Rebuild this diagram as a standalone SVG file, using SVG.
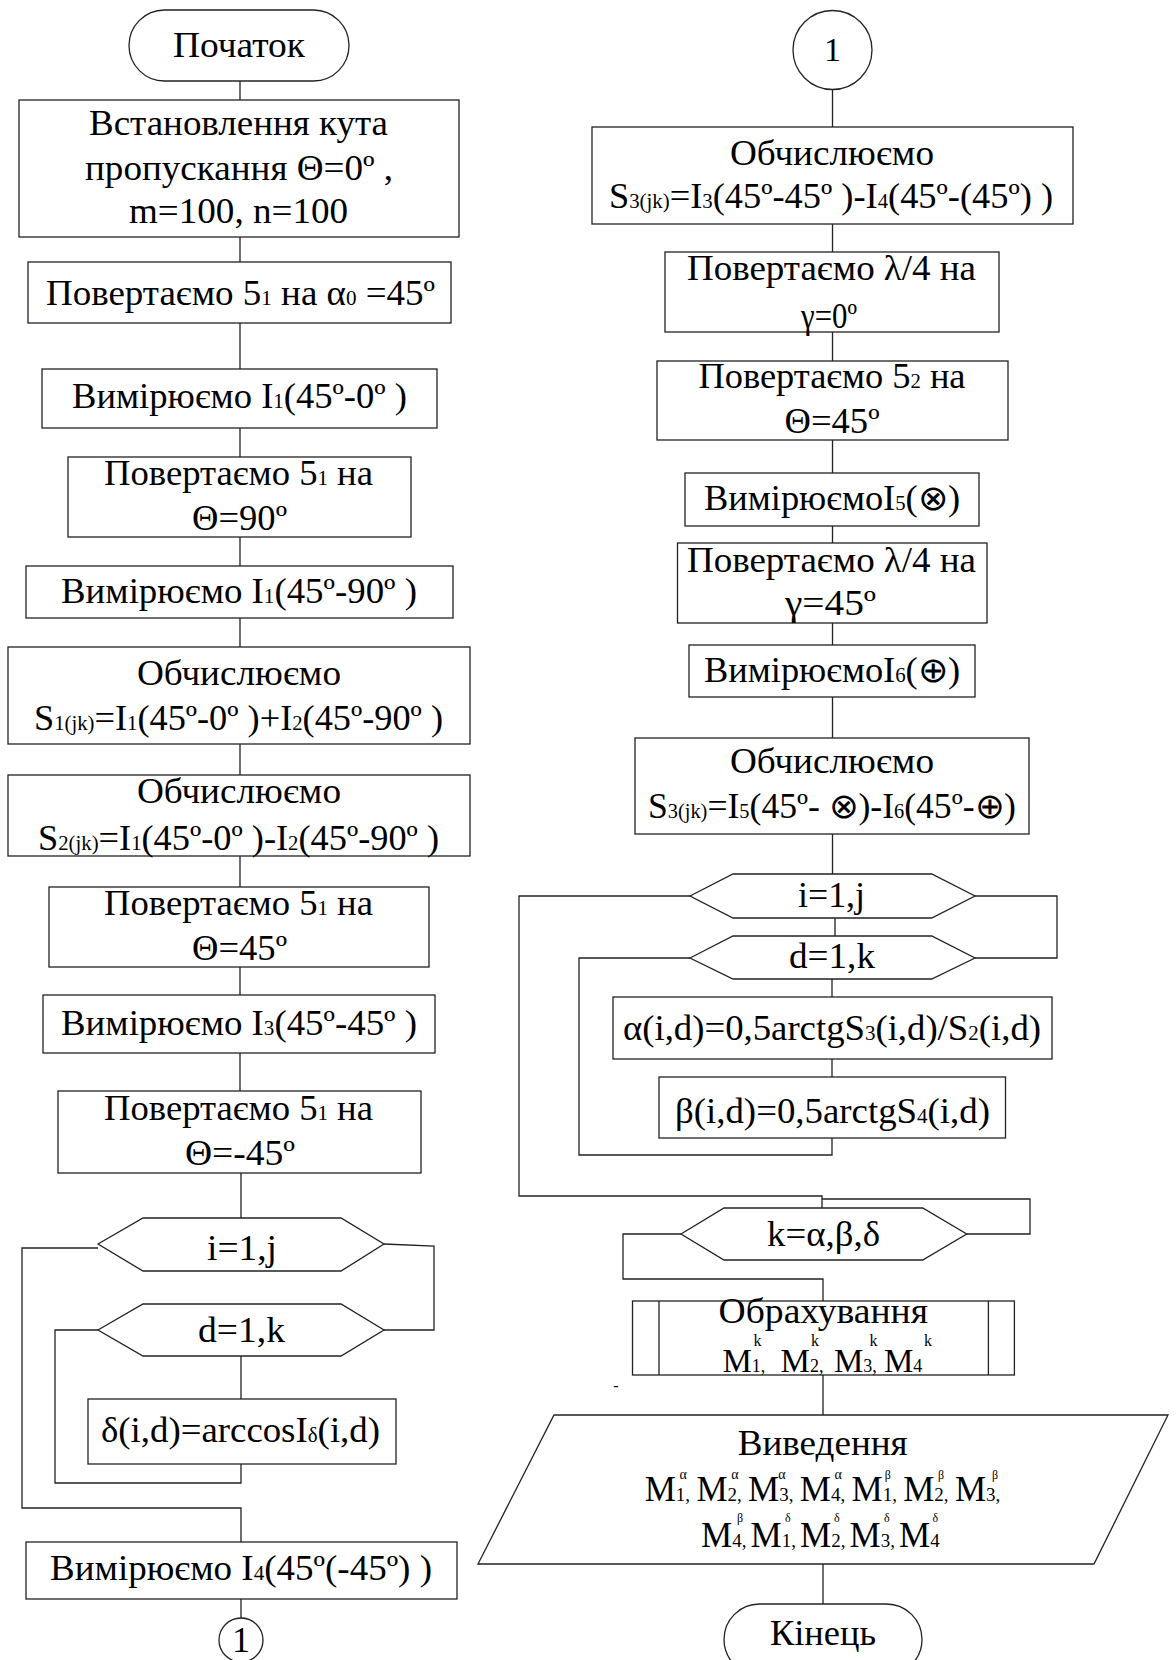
<svg xmlns="http://www.w3.org/2000/svg" width="1176" height="1660" viewBox="0 0 1176 1660">
<style>
.b{fill:#fff;stroke:#222;stroke-width:1.3}
.c{fill:none;stroke:#222;stroke-width:1.3}
text{font-family:"Liberation Serif","Times New Roman",serif;font-size:35px;text-anchor:middle;fill:#000}
.s{font-size:20px}
.ml{font-size:35px;text-anchor:start}
.ms{font-size:19px}
.sup{font-size:14px}
.sb{font-size:12px}
.k{font-size:16px}
</style>
<rect width="1176" height="1660" fill="#fff"/>
<g id="connectors">
<path class="c" d="M240 81V100M240 237V262M240 323V369M240 428V457M240 537V566M240 618V647M240 744V775M240 856V887M240 967V995M240 1053V1091M241 1173V1218"/>
<path class="c" d="M384 1244L434 1246V1330H384"/>
<path class="c" d="M98 1248H22V1508H241V1542"/>
<path class="c" d="M98 1330H55V1483H241V1464"/>
<path class="c" d="M241 1356V1399M241 1599V1618"/>
<path class="c" d="M832.5 89V127M832.5 224V252M832.5 332V361M832.5 440V473M832.5 526V543M832.5 623V645M832.5 697V738M832.5 834V874M835 918V936M832 979V997M832 1059V1077"/>
<path class="c" d="M975 896H1057V958H975"/>
<path class="c" d="M690 896H519V1196H822V1208"/>
<path class="c" d="M690 958H579V1155H832V1138"/>
<path class="c" d="M966.7 1234H1030V1199H822"/>
<path class="c" d="M681 1234H623V1279H823V1301"/>
<path class="c" d="M823 1375V1415M823 1564V1604"/>
</g>
<g id="start"><rect class="b" x="129" y="10" width="220" height="71" rx="35.5"/><text x="239" y="57" textLength="132" lengthAdjust="spacingAndGlyphs">Початок</text></g>
<g id="init"><rect class="b" x="19" y="100" width="440" height="137"/>
<text x="238.5" y="135" textLength="299" lengthAdjust="spacingAndGlyphs">Встановлення кута</text>
<text x="239" y="180" textLength="308" lengthAdjust="spacingAndGlyphs">пропускання Θ=0º ,</text>
<text x="238.5" y="223" textLength="219" lengthAdjust="spacingAndGlyphs">m=100, n=100</text></g>
<g id="rot1"><rect class="b" x="28" y="262" width="423" height="61"/><text x="240.5" y="305" textLength="389" lengthAdjust="spacingAndGlyphs">Повертаємо 5<tspan class="s">1</tspan> на α<tspan class="s">0</tspan> =45º</text></g>
<g id="meas1"><rect class="b" x="42" y="369" width="395" height="59"/><text x="239.5" y="408" textLength="335" lengthAdjust="spacingAndGlyphs">Вимірюємо I<tspan class="s">1</tspan>(45º-0º )</text></g>
<g id="rot2"><rect class="b" x="68" y="457" width="343" height="80"/><text x="238.5" y="485" textLength="269" lengthAdjust="spacingAndGlyphs">Повертаємо 5<tspan class="s">1</tspan> на</text><text x="239.5" y="530" textLength="95" lengthAdjust="spacingAndGlyphs">Θ=90º</text></g>
<g id="meas2"><rect class="b" x="26" y="566" width="427" height="52"/><text x="239" y="603" textLength="356" lengthAdjust="spacingAndGlyphs">Вимірюємо I<tspan class="s">1</tspan>(45º-90º )</text></g>
<g id="calc1"><rect class="b" x="8" y="647" width="462" height="97"/><text x="239" y="685" textLength="204" lengthAdjust="spacingAndGlyphs">Обчислюємо</text><text x="238.5" y="730" textLength="409" lengthAdjust="spacingAndGlyphs">S<tspan class="s">1(jk)</tspan>=I<tspan class="s">1</tspan>(45º-0º )+I<tspan class="s">2</tspan>(45º-90º )</text></g>
<g id="calc2"><rect class="b" x="8" y="775" width="462" height="81"/><text x="239" y="803" textLength="204" lengthAdjust="spacingAndGlyphs">Обчислюємо</text><text x="238.5" y="850" textLength="401" lengthAdjust="spacingAndGlyphs">S<tspan class="s">2(jk)</tspan>=I<tspan class="s">1</tspan>(45º-0º )-I<tspan class="s">2</tspan>(45º-90º )</text></g>
<g id="rot3"><rect class="b" x="49" y="887" width="380" height="80"/><text x="238.5" y="915" textLength="269" lengthAdjust="spacingAndGlyphs">Повертаємо 5<tspan class="s">1</tspan> на</text><text x="239.5" y="960" textLength="95" lengthAdjust="spacingAndGlyphs">Θ=45º</text></g>
<g id="meas3"><rect class="b" x="43" y="995" width="392" height="58"/><text x="239" y="1035" textLength="356" lengthAdjust="spacingAndGlyphs">Вимірюємо I<tspan class="s">3</tspan>(45º-45º )</text></g>
<g id="rot4"><rect class="b" x="58" y="1091" width="363" height="82"/><text x="238.5" y="1120" textLength="269" lengthAdjust="spacingAndGlyphs">Повертаємо 5<tspan class="s">1</tspan> на</text><text x="240" y="1165" textLength="110" lengthAdjust="spacingAndGlyphs">Θ=-45º</text></g>
<g id="loopI1"><polygon class="b" points="98,1244 143,1218 341,1218 384,1244 341,1271 143,1271"/><text x="242" y="1260" textLength="70" lengthAdjust="spacingAndGlyphs">i=1,j</text></g>
<g id="loopD1"><polygon class="b" points="98,1330 143,1304 341,1304 384,1330 341,1356 143,1356"/><text x="241.5" y="1342" textLength="87" lengthAdjust="spacingAndGlyphs">d=1,k</text></g>
<g id="delta"><rect class="b" x="88" y="1399" width="308" height="65"/><text x="240.5" y="1442" textLength="279" lengthAdjust="spacingAndGlyphs">δ(i,d)=arccosI<tspan class="s">δ</tspan>(i,d)</text></g>
<g id="meas4"><rect class="b" x="26" y="1542" width="431" height="57"/><text x="241" y="1580" textLength="382" lengthAdjust="spacingAndGlyphs">Вимірюємо I<tspan class="s">4</tspan>(45º(-45º) )</text></g>
<g id="conn1a"><circle class="b" cx="241" cy="1640" r="22"/><text x="241" y="1652" style="font-size:36px">1</text></g>
<g id="conn1b"><circle class="b" cx="832.5" cy="50" r="39.5"/><text x="832.5" y="61" style="font-size:34px">1</text></g>
<g id="calc3"><rect class="b" x="592" y="127" width="481" height="97"/><text x="832" y="165" textLength="204" lengthAdjust="spacingAndGlyphs">Обчислюємо</text><text x="831" y="208" textLength="444" lengthAdjust="spacingAndGlyphs">S<tspan class="s">3(jk)</tspan>=I<tspan class="s">3</tspan>(45º-45º )-I<tspan class="s">4</tspan>(45º-(45º) )</text></g>
<g id="rotL1"><rect class="b" x="665" y="252" width="334" height="80"/><text x="831.5" y="280" textLength="289" lengthAdjust="spacingAndGlyphs">Повертаємо λ/4 на</text><text x="829" y="328" textLength="56" lengthAdjust="spacingAndGlyphs">γ=0º</text></g>
<g id="rot5"><rect class="b" x="657" y="361" width="351" height="79"/><text x="832" y="388" textLength="267" lengthAdjust="spacingAndGlyphs">Повертаємо 5<tspan class="s">2</tspan> на</text><text x="832" y="433" textLength="95" lengthAdjust="spacingAndGlyphs">Θ=45º</text></g>
<g id="meas5"><rect class="b" x="685" y="473" width="294" height="53"/><text x="832" y="510" textLength="256" lengthAdjust="spacingAndGlyphs">ВимірюємоI<tspan class="s">5</tspan>(⊗)</text></g>
<g id="rotL2"><rect class="b" x="677.5" y="543" width="309.5" height="80"/><text x="831.5" y="572" textLength="289" lengthAdjust="spacingAndGlyphs">Повертаємо λ/4 на</text><text x="830.5" y="615" textLength="91" lengthAdjust="spacingAndGlyphs">γ=45º</text></g>
<g id="meas6"><rect class="b" x="689" y="645" width="286" height="52"/><text x="832" y="682" textLength="256" lengthAdjust="spacingAndGlyphs">ВимірюємоI<tspan class="s">6</tspan>(⊕)</text></g>
<g id="calc4"><rect class="b" x="635" y="738" width="394" height="96"/><text x="832" y="773" textLength="204" lengthAdjust="spacingAndGlyphs">Обчислюємо</text><text x="832" y="818" textLength="368" lengthAdjust="spacingAndGlyphs">S<tspan class="s">3(jk)</tspan>=I<tspan class="s">5</tspan>(45º- ⊗)-I<tspan class="s">6</tspan>(45º-⊕)</text></g>
<g id="loopI2"><polygon class="b" points="690,896 733,874 931.7,874 975,896 931.7,918 733,918"/><text x="831.5" y="907" textLength="67" lengthAdjust="spacingAndGlyphs">i=1,j</text></g>
<g id="loopD2"><polygon class="b" points="690,958 733,936 931.7,936 975,958 931.7,979 733,979"/><text x="832" y="968" textLength="86" lengthAdjust="spacingAndGlyphs">d=1,k</text></g>
<g id="alpha"><rect class="b" x="613" y="997" width="439" height="62"/><text x="832" y="1040" textLength="418" lengthAdjust="spacingAndGlyphs">α(i,d)=0,5arctgS<tspan class="s">3</tspan>(i,d)/S<tspan class="s">2</tspan>(i,d)</text></g>
<g id="beta"><rect class="b" x="659" y="1077" width="346.5" height="61"/><text x="832.5" y="1123" textLength="315" lengthAdjust="spacingAndGlyphs">β(i,d)=0,5arctgS<tspan class="s">4</tspan>(i,d)</text></g>
<g id="loopK"><polygon class="b" points="681,1234 724,1208 922.7,1208 966.7,1234 922.7,1260 724,1260"/><text x="823.5" y="1246" textLength="113" lengthAdjust="spacingAndGlyphs">k=α,β,δ</text></g>
<g id="calcM"><rect class="b" x="632.5" y="1301" width="381.9" height="74"/><path class="c" d="M659 1301V1375M988.4 1301V1375"/>
<text x="823.3" y="1323" textLength="209.5" lengthAdjust="spacingAndGlyphs">Обрахування</text>
<text class="ml" style="font-size:33px" y="1372"><tspan x="722.4">M</tspan><tspan class="ms" style="font-size:18px">1,</tspan><tspan class="k" x="753.6" y="1346">k</tspan><tspan x="780.6" y="1372">M</tspan><tspan class="ms" style="font-size:18px">2,</tspan><tspan class="k" x="811" y="1346">k</tspan><tspan x="834" y="1372">M</tspan><tspan class="ms" style="font-size:18px">3,</tspan><tspan class="k" x="869.6" y="1346">k</tspan><tspan x="884" y="1372">M</tspan><tspan class="ms" style="font-size:18px">4</tspan><tspan class="k" x="924" y="1346">k</tspan></text>
<text x="616" y="1391" style="font-size:16px">-</text></g>
<g id="output"><polygon class="b" points="554,1415 1168,1415 1094,1564 478,1564"/>
<text x="822.7" y="1455" textLength="170" lengthAdjust="spacingAndGlyphs">Виведення</text>
<text class="ml" y="1501"><tspan x="644.7">M</tspan><tspan class="ms">1,</tspan><tspan class="sup" x="679.5" y="1479">α</tspan><tspan x="696.4" y="1501">M</tspan><tspan class="ms">2,</tspan><tspan class="sup" x="731.2" y="1479">α</tspan><tspan x="748.1" y="1501">M</tspan><tspan class="ms">3,</tspan><tspan class="sup" x="778.2" y="1479">α</tspan><tspan x="799.8" y="1501">M</tspan><tspan class="ms">4,</tspan><tspan class="sup" x="834.5" y="1479">α</tspan><tspan x="851.5" y="1501">M</tspan><tspan class="ms">1,</tspan><tspan class="sb" x="884.8" y="1479">β</tspan><tspan x="903.2" y="1501">M</tspan><tspan class="ms">2,</tspan><tspan class="sb" x="938" y="1479">β</tspan><tspan x="954.9" y="1501">M</tspan><tspan class="ms">3,</tspan><tspan class="sb" x="992" y="1479">β</tspan></text>
<text class="ml" y="1547"><tspan x="701">M</tspan><tspan class="ms">4,</tspan><tspan class="sb" x="737" y="1522">β</tspan><tspan x="750.5" y="1547">M</tspan><tspan class="ms">1,</tspan><tspan class="sb" x="785" y="1522">δ</tspan><tspan x="800" y="1547">M</tspan><tspan class="ms">2,</tspan><tspan class="sb" x="834" y="1522">δ</tspan><tspan x="849.5" y="1547">M</tspan><tspan class="ms">3,</tspan><tspan class="sb" x="884" y="1522">δ</tspan><tspan x="899" y="1547">M</tspan><tspan class="ms">4</tspan><tspan class="sb" x="932.5" y="1522">δ</tspan></text></g>
<g id="end"><rect class="b" x="724" y="1604" width="198" height="71" rx="35.5"/><text x="823" y="1645" textLength="106" lengthAdjust="spacingAndGlyphs">Кінець</text></g>
</svg>
